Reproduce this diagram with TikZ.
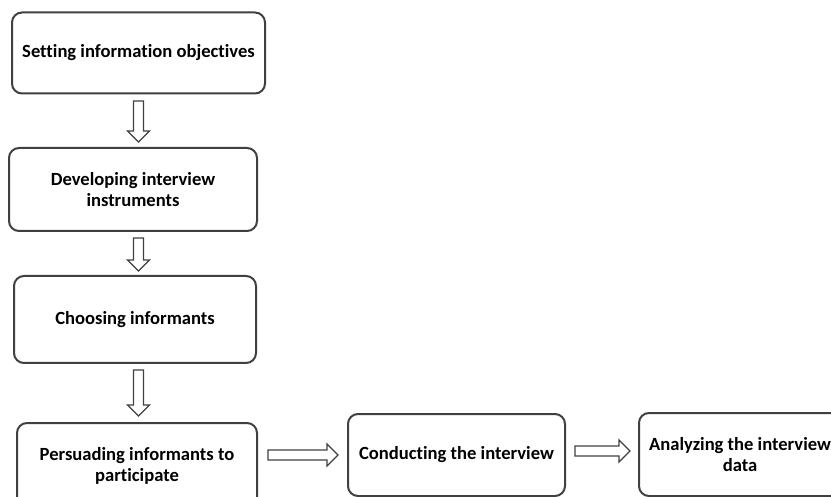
\documentclass[tikz,border=0pt]{standalone}
\usepackage{fontspec}
\setmainfont{Carlito}[Ligatures=NoCommon]
\usetikzlibrary{calc}
\definecolor{edge}{HTML}{404040}
\begin{document}
\begin{tikzpicture}[x=1pt,y=-1pt,
  stage/.style={draw=edge, line width=2pt, rounded corners=10pt, align=center,
    text=black, font=\fontsize{18.6}{21}\selectfont\bfseries, inner sep=0pt, fill=white},
  % outlined block arrow between two points
  hollow/.style={draw=edge, line width=1.3pt, line join=miter, to path={
     ($(\tikztostart)!5pt!90:(\tikztotarget)$)
     -- ($(\tikztotarget)!11pt!(\tikztostart)!5pt!-90:(\tikztostart)$)
     -- ($(\tikztotarget)!11pt!(\tikztostart)!11pt!-90:(\tikztostart)$)
     -- (\tikztotarget)
     -- ($(\tikztotarget)!11pt!(\tikztostart)!11pt!90:(\tikztostart)$)
     -- ($(\tikztotarget)!11pt!(\tikztostart)!5pt!90:(\tikztostart)$)
     -- ($(\tikztostart)!5pt!-90:(\tikztotarget)$)
     -- cycle}}]
\useasboundingbox (0,0) rectangle (831,497);
\clip (0,0) rectangle (831,497);

\node[stage, minimum width=253pt, minimum height=81pt] (b1) at (138.5,53)
  {Setting information objectives};
\node[stage, minimum width=248pt, minimum height=83pt] (b2) at (133,189.5)
  {Developing interview\\instruments};
\node[stage, minimum width=242pt, minimum height=87pt] (b3) at (135,319.5)
  {Choosing informants};
\node[stage, minimum width=240pt, minimum height=85pt] (b4) at (137,465.5)
  {Persuading informants to\\participate};
\node[stage, minimum width=217pt, minimum height=82pt] (b5) at (456.5,455)
  {Conducting the interview};
\node[stage, minimum width=202pt, minimum height=83pt] (b6) at (740,454.5)
  {Analyzing the interview\\data};

\draw[hollow] ([yshift=-6.5pt]b1.south) to ([yshift=5pt]b1.south |- b2.north);
\draw[hollow] ([yshift=-6pt]b2.south -| b1.south) to ([yshift=4pt]b1.south |- b3.north);
\draw[hollow] ([yshift=-6pt]b3.south -| b1.south) to ([yshift=6pt]b1.south |- b4.north);

\coordinate (h1) at ($(b4.east |- b5.west)+(10,0)$);
\draw[hollow] (h1) to ($(b5.west |- h1)+(-9,0)$);
\coordinate (h2) at ($(b5.east)+(9,-4)$);
\draw[hollow] (h2) to ($(b6.west |- h2)+(-8,0)$);
\end{tikzpicture}
\end{document}
